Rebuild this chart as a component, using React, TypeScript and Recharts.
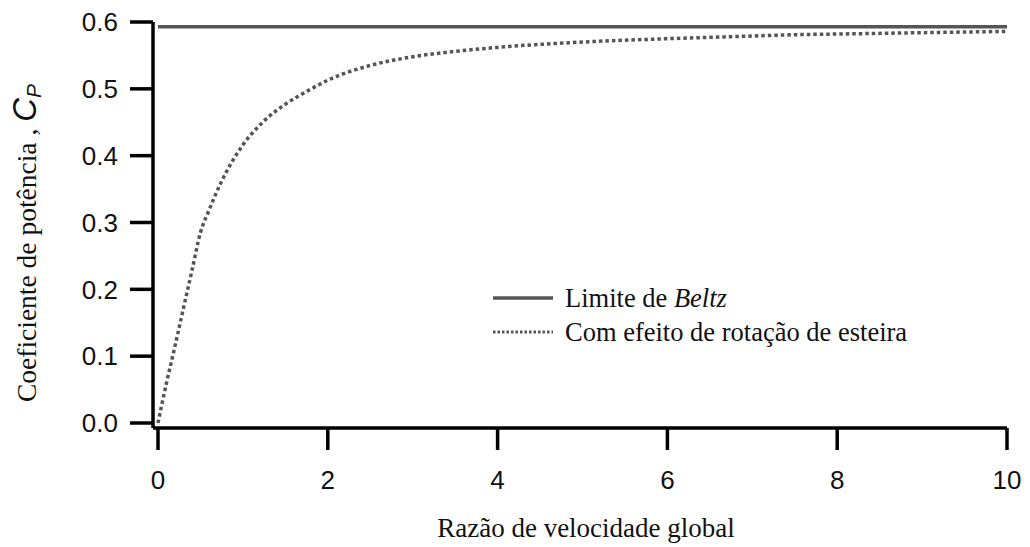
import React from "react";
import {
  LineChart,
  Line,
  XAxis,
  YAxis,
  Legend,
} from "recharts";

// razao de velocidade (lambda) e Cp
const lambdas = [0, 0.1, 0.2, 0.3, 0.4, 0.5, 0.6, 0.75, 1.0, 1.25, 1.5, 1.75, 2.0, 2.5, 3.0, 3.5, 4.0, 5.0, 6.0, 7.0, 7.5, 8.0, 9.0, 10.0];
const cpRotacao = [0, 0.06, 0.115, 0.172, 0.228, 0.285, 0.318, 0.362, 0.416, 0.452, 0.477, 0.496, 0.513, 0.535, 0.548, 0.556, 0.562, 0.57, 0.575, 0.579, 0.581, 0.582, 0.584, 0.586];
const betzLimit = 0.593;
const xTicks = [0, 2, 4, 6, 8, 10];
const yTicks = [0, 0.1, 0.2, 0.3, 0.4, 0.5, 0.6];

const data = lambdas.map((l, i) => ({
  x: l,
  beltz: betzLimit,
  rot: cpRotacao[i],
}));

const serif = "'Liberation Serif', 'Times New Roman', serif";
const sans = "'Liberation Sans', Arial, sans-serif";

const renderLegend = () => (
  <div style={{ fontFamily: serif, fontSize: 26.5, color: "#111", lineHeight: "34px" }}>
    <div style={{ display: "flex", alignItems: "center" }}>
      <svg width={75} height={10}>
        <line x1={3} y1={5} x2={63} y2={5} stroke="#555" strokeWidth={3.5} />
      </svg>
      <span>
        Limite de <i>Beltz</i>
      </span>
    </div>
    <div style={{ display: "flex", alignItems: "center" }}>
      <svg width={75} height={10}>
        <line x1={3} y1={5} x2={63} y2={5} stroke="#555" strokeWidth={3} strokeDasharray="2.5 2" />
      </svg>
      <span>Com efeito de rotação de esteira</span>
    </div>
  </div>
);

const YLabel = () => (
  <text
    x={0}
    y={0}
    transform="translate(36, 243) rotate(-90)"
    textAnchor="middle"
    fill="#111"
  >
    <tspan fontFamily={serif} fontSize={27.5}>
      Coeficiente de potência ,{" "}
    </tspan>
    <tspan fontFamily={sans} fontStyle="italic" fontSize={33}>
      C
    </tspan>
    <tspan fontFamily={sans} fontStyle="italic" fontSize={21} dy={5}>
      P
    </tspan>
  </text>
);

export default function App() {
  return (
    <div style={{ position: "absolute", left: 0, top: 0, background: "#fff" }}>
      <LineChart
        width={1030}
        height={547}
        data={data}
        margin={{ top: 22, right: 23, bottom: 0, left: 0 }}
      >
        <XAxis
          dataKey="x"
          type="number"
          domain={[0, 10]}
          ticks={xTicks}
          padding={{ left: 5, right: 0 }}
          height={119}
          axisLine={{ stroke: "#000", strokeWidth: 3.5 }}
          tickLine={{ stroke: "#000", strokeWidth: 3.5 }}
          tickSize={22}
          tickMargin={21}
          tick={{ fill: "#111", fontSize: 26, fontFamily: sans }}
          label={{
            value: "Razão de velocidade global",
            position: "insideBottom",
            offset: 10,
            dx: 6,
            fill: "#111",
            fontSize: 27,
            fontFamily: serif,
          }}
        />
        <YAxis
          type="number"
          domain={[0, 0.6]}
          ticks={yTicks}
          padding={{ top: 0, bottom: 5 }}
          width={153}
          axisLine={{ stroke: "#000", strokeWidth: 3.5 }}
          tickLine={{ stroke: "#000", strokeWidth: 3.5 }}
          tickSize={23}
          tickMargin={12}
          tickFormatter={(v: number) => v.toFixed(1)}
          tick={{ fill: "#111", fontSize: 26, fontFamily: sans }}
          label={{ content: () => <YLabel /> }}
        />
        <Legend
          layout="horizontal"
          verticalAlign="middle"
          align="center"
          content={renderLegend}
          wrapperStyle={{ left: 490, top: 281, width: 480 }}
        />
        <Line
          type="linear"
          dataKey="beltz"
          stroke="#555"
          strokeWidth={3.5}
          dot={false}
          isAnimationActive={false}
        />
        <Line
          type="monotone"
          dataKey="rot"
          stroke="#555"
          strokeWidth={3.5}
          strokeDasharray="3.5 3"
          dot={false}
          isAnimationActive={false}
        />
      </LineChart>
    </div>
  );
}
